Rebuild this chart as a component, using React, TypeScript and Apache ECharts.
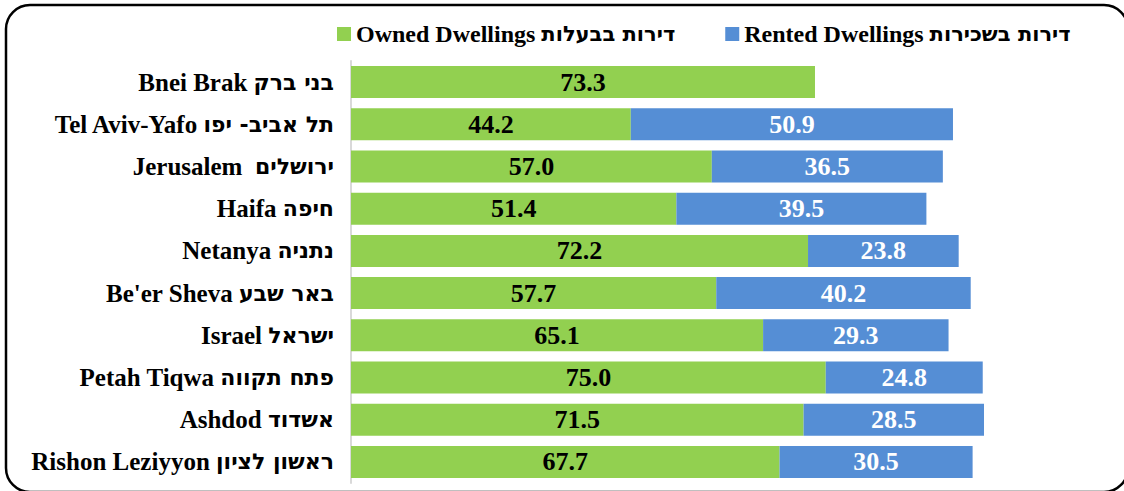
import React, { useEffect, useRef } from "react";
import * as echarts from "echarts";

const categoriesEn = [
  "Bnei Brak",
  "Tel Aviv-Yafo",
  "Jerusalem ",
  "Haifa",
  "Netanya",
  "Be'er Sheva",
  "Israel",
  "Petah Tiqwa",
  "Ashdod",
  "Rishon Leziyyon",
];
const categoriesHe = [
  "בני ברק",
  "תל אביב- יפו",
  "ירושלים",
  "חיפה",
  "נתניה",
  "באר שבע",
  "ישראל",
  "פתח תקווה",
  "אשדוד",
  "ראשון לציון",
];
const owned = [73.3, 44.2, 57.0, 51.4, 72.2, 57.7, 65.1, 75.0, 71.5, 67.7];
const rented: (number | string)[] = ["-", 50.9, 36.5, 39.5, 23.8, 40.2, 29.3, 24.8, 28.5, 30.5];
const seriesEn = ["Owned Dwellings", "Rented Dwellings"];
const seriesHe = ["דירות בבעלות", "דירות בשכירות"];

const FONT = "'Liberation Serif', 'Times New Roman', serif";
const HEB = "'DejaVu Sans', sans-serif";

const categories = categoriesEn.map((e, i) => e + " " + categoriesHe[i]);
const seriesNames = seriesEn.map((e, i) => e + " " + seriesHe[i]);

export default function App() {
  const ref = useRef<HTMLDivElement>(null);
  useEffect(() => {
    if (!ref.current) return;
    const chart = echarts.init(ref.current, undefined, { renderer: "svg" });
    const richFor = (size: number) => ({
      en: { fontFamily: FONT, fontWeight: "bold", fontSize: size, color: "#000" },
      he: { fontFamily: HEB, fontWeight: "bold", fontSize: size - 3, color: "#000" },
    });
    chart.setOption({
      animation: false,
      textStyle: { fontFamily: FONT },
      graphic: [
        {
          type: "rect",
          shape: { x: 6, y: 5, width: 1122, height: 487, r: 24 },
          style: { fill: "none", stroke: "#000", lineWidth: 2.5 },
          silent: true,
        },
      ],
      legend: {
        top: 17,
        left: 332,
        itemWidth: 14,
        itemHeight: 14,
        itemGap: 50,
        icon: "rect",
        formatter: (name: string) => {
          const i = seriesNames.indexOf(name);
          return "{en|" + seriesEn[i] + " }{he|" + seriesHe[i] + "}";
        },
        textStyle: {
          fontFamily: FONT,
          fontWeight: "bold",
          fontSize: 24,
          color: "#000",
          rich: richFor(24),
        },
        data: seriesNames,
      },
      grid: { left: 351, right: 140, top: 61, bottom: 8, containLabel: false },
      xAxis: {
        type: "value",
        min: 0,
        max: 100,
        show: false,
      },
      yAxis: {
        type: "category",
        data: categories,
        inverse: true,
        axisLine: { show: true, lineStyle: { color: "#D9D9D9", width: 2 } },
        axisTick: { show: false },
        axisLabel: {
          fontFamily: FONT,
          fontWeight: "bold",
          fontSize: 25,
          color: "#000",
          margin: 17,
          formatter: (v: string) => {
            const i = categories.indexOf(v);
            return "{en|" + categoriesEn[i] + " }{he|" + categoriesHe[i] + "}";
          },
          rich: richFor(25),
        },
      },
      series: [
        {
          name: seriesNames[0],
          type: "bar",
          stack: "total",
          data: owned,
          barWidth: 32,
          itemStyle: { color: "#92D050" },
          label: {
            show: true,
            position: "inside",
            formatter: (p: any) => Number(p.value).toFixed(1),
            fontFamily: FONT,
            fontWeight: "bold",
            fontSize: 26,
            color: "#000",
          },
        },
        {
          name: seriesNames[1],
          type: "bar",
          stack: "total",
          data: rented,
          barWidth: 32,
          itemStyle: { color: "#558ED5" },
          label: {
            show: true,
            position: "inside",
            formatter: (p: any) => Number(p.value).toFixed(1),
            fontFamily: FONT,
            fontWeight: "bold",
            fontSize: 26,
            color: "#fff",
          },
        },
      ],
    });
    return () => chart.dispose();
  }, []);
  return (
    <div
      ref={ref}
      style={{ position: "fixed", left: 0, top: 0, width: 1124, height: 491, background: "#fff" }}
    />
  );
}
